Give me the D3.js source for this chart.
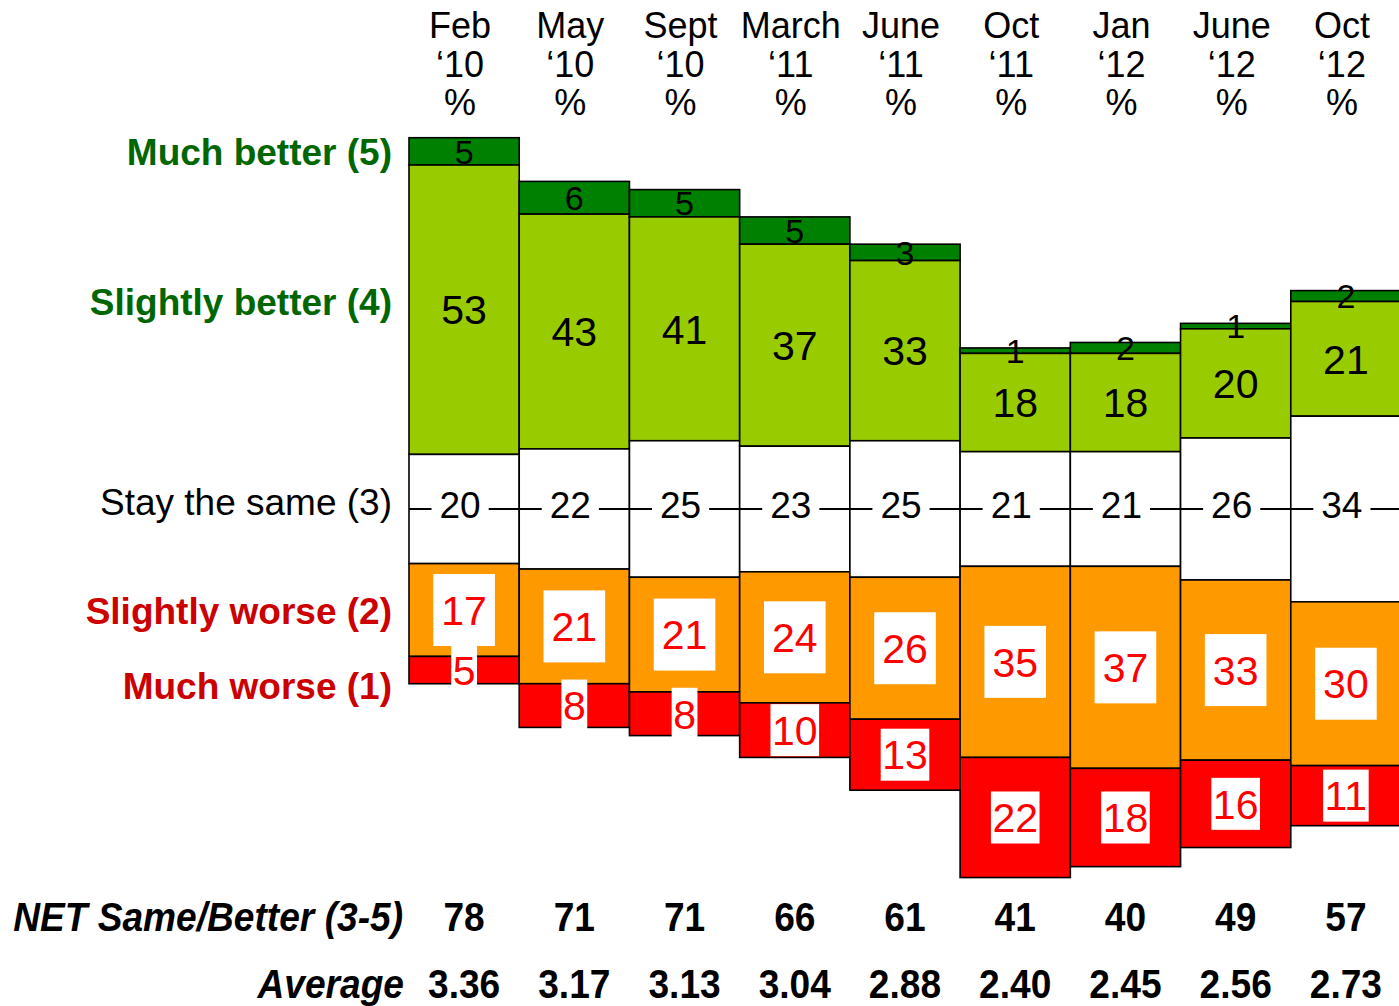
<!DOCTYPE html>
<html>
<head>
<meta charset="utf-8">
<script src="https://cdn.jsdelivr.net/npm/d3@7"></script>
<style>
  html, body { margin: 0; padding: 0; background: #fff; }
  svg { display: block; font-family: "Liberation Sans", Arial, Helvetica, sans-serif; }
</style>
</head>
<body>
<svg id="chart" width="1399" height="1006"></svg>
<script>
// Survey waves
const months = ["Feb", "May", "Sept", "March", "June", "Oct", "Jan", "June", "Oct"];
const years  = ["\u201810", "\u201810", "\u201810", "\u201811", "\u201811", "\u201811", "\u201812", "\u201812", "\u201812"];

// Percentages per answer, one entry per wave
const muchBetter     = [5, 6, 5, 5, 3, 1, 2, 1, 2];
const slightlyBetter = [53, 43, 41, 37, 33, 18, 18, 20, 21];
const staySame       = [20, 22, 25, 23, 25, 21, 21, 26, 34];
const slightlyWorse  = [17, 21, 21, 24, 26, 35, 37, 33, 30];
const muchWorse      = [5, 8, 8, 10, 13, 22, 18, 16, 11];

// Summary rows
const netSameBetter = [78, 71, 71, 66, 61, 41, 40, 49, 57];
const averages      = ["3.36", "3.17", "3.13", "3.04", "2.88", "2.40", "2.45", "2.56", "2.73"];

// Row labels on the left
const answerLabels = ["Much better (5)", "Slightly better (4)", "Stay the same (3)", "Slightly worse (2)", "Much worse (1)"];

const svg = d3.select("#chart");

const x = d3.scaleBand().domain(d3.range(months.length)).range([409, 1401]).paddingInner(0).paddingOuter(0);
// vertical offset in percentage points from the middle of "Stay the same"
const y = d3.scaleLinear().domain([-70, 70]).range([509 - 70 * 5.46, 509 + 70 * 5.46]);

const fills = ["#008000", "#99cc00", "#ffffff", "#ff9900", "#ff0000"];
const series = [muchBetter, slightlyBetter, staySame, slightlyWorse, muchWorse];

// stack each wave around the middle of "Stay the same"
const segments = [];
months.forEach((m, i) => {
  let pos = -(staySame[i] / 2 + slightlyBetter[i] + muchBetter[i]);
  series.forEach((s, k) => {
    segments.push({ col: i, k, v: s[i], y0: pos, y1: pos + s[i] });
    pos += s[i];
  });
});

// bars
svg.append("g").selectAll("rect")
  .data(segments)
  .join("rect")
  .attr("x", d => x(d.col))
  .attr("width", x.bandwidth())
  .attr("y", d => y(d.y0))
  .attr("height", d => y(d.y1) - y(d.y0))
  .attr("fill", d => fills[d.k])
  .attr("stroke", "#000")
  .attr("stroke-width", 1.6);

// midline through "Stay the same"
svg.append("line")
  .attr("x1", x.range()[0]).attr("x2", x.range()[1])
  .attr("y1", y(0)).attr("y2", y(0))
  .attr("stroke", "#000").attr("stroke-width", 1.8);

const cx = i => x(i) + x.bandwidth() / 2;
const mid = d => y((d.y0 + d.y1) / 2);

// green values: plain black text
const gLabels = svg.append("g").attr("fill", "#000").attr("text-anchor", "middle");
segments.filter(d => d.k === 0).forEach(d => {
  gLabels.append("text").attr("x", cx(d.col)).attr("y", mid(d)).attr("dy", "0.36em")
    .attr("font-size", 34).text(d.v);
});
segments.filter(d => d.k === 1).forEach(d => {
  gLabels.append("text").attr("x", cx(d.col)).attr("y", mid(d)).attr("dy", "0.36em")
    .attr("font-size", 41).text(d.v);
});

// "Stay the same" values on white chips over the midline
const sLabels = svg.append("g");
segments.filter(d => d.k === 2).forEach(d => {
  const tx = cx(d.col) - 4;
  const t = sLabels.append("text").attr("x", tx).attr("y", y(0) - 4).attr("dy", "0.36em")
    .attr("text-anchor", "middle").attr("font-size", 37).attr("fill", "#000").text(d.v);
  const w = t.node().getComputedTextLength();
  sLabels.insert("rect", () => t.node())
    .attr("x", tx - w / 2 - 8).attr("width", w + 16)
    .attr("y", y(0) - 22).attr("height", 40).attr("fill", "#fff");
});

// worse values: red text on white boxes
const rLabels = svg.append("g");
segments.filter(d => d.k >= 3).forEach(d => {
  const t = rLabels.append("text").attr("x", cx(d.col)).attr("y", mid(d)).attr("dy", "0.36em")
    .attr("text-anchor", "middle").attr("font-size", 41).attr("fill", "#ff0000").text(d.v);
  const w = t.node().getComputedTextLength();
  const padX = d.k === 3 ? 8 : 1.5;
  const h = d.k === 3 ? 72 : 52;
  rLabels.insert("rect", () => t.node())
    .attr("x", cx(d.col) - w / 2 - padX).attr("width", w + 2 * padX)
    .attr("y", mid(d) - h / 2).attr("height", h).attr("fill", "#fff");
});

// column headers
const head = svg.append("g").attr("text-anchor", "middle").attr("font-size", 36).attr("fill", "#000");
months.forEach((m, i) => {
  const hx = cx(i) - 4;
  const t = head.append("text").attr("x", hx);
  t.append("tspan").attr("x", hx).attr("y", 38).text(m);
  t.append("tspan").attr("x", hx).attr("y", 77).text(years[i]);
  t.append("tspan").attr("x", hx).attr("y", 115).text("%");
});

// answer labels
const labelY = [165, 315, 515, 624, 699];
const labelFill = ["#006600", "#006600", "#000", "#cc0000", "#cc0000"];
const labelWeight = ["bold", "bold", "normal", "bold", "bold"];
svg.append("g").attr("text-anchor", "end").selectAll("text")
  .data(answerLabels)
  .join("text")
  .attr("x", 392)
  .attr("y", (d, k) => labelY[k])
  .attr("font-size", 37)
  .attr("font-weight", (d, k) => labelWeight[k])
  .attr("fill", (d, k) => labelFill[k])
  .text(d => d);

// summary rows, set in a condensed bold face
const summary = svg.append("g").attr("font-weight", "bold").attr("fill", "#000").attr("font-size", 40);
const netTitle = summary.append("text").attr("text-anchor", "end")
  .attr("font-style", "italic").text("NET Same/Better (3-5)");
const squeeze = Math.min(1, 390 / netTitle.node().getComputedTextLength());
const place = (sel, px, py) => sel.attr("transform", `translate(${px},${py}) scale(${squeeze},1)`);
place(netTitle, 403, 931);
place(summary.append("text").attr("text-anchor", "end").attr("font-style", "italic").text("Average"), 404, 998);
netSameBetter.forEach((v, i) => {
  place(summary.append("text").attr("text-anchor", "middle").text(v), cx(i), 931);
});
averages.forEach((v, i) => {
  place(summary.append("text").attr("text-anchor", "middle").text(v), cx(i), 998);
});
</script>
</body>
</html>
